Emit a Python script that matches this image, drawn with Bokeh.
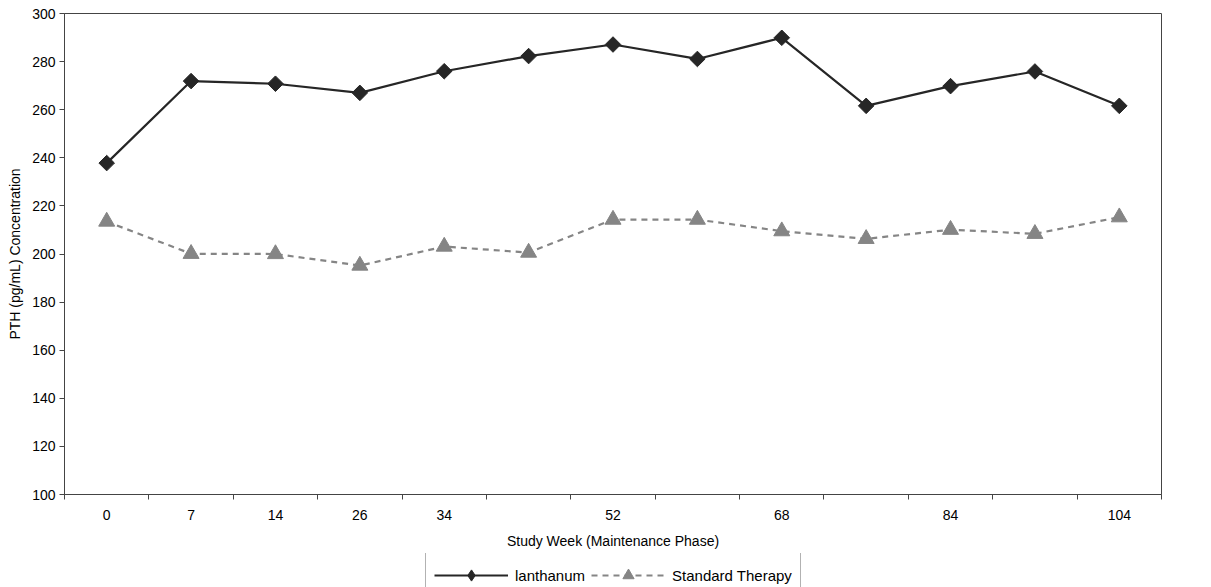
import math

from bokeh.plotting import figure
from bokeh.layouts import column
from bokeh.models import FixedTicker, Legend, LegendItem, Range1d
from bokeh.embed import file_html
from bokeh.resources import INLINE

# Study week labels along the category axis (some positions carry no label)
week_labels = ["0", "7", "14", "26", "34", "", "52", "", "68", "", "84", "", "104"]

# Mean PTH concentration (pg/mL) per visit
lanthanum = [237.8, 271.9, 270.8, 267.0, 276.0, 282.3, 287.1, 281.1, 289.9, 261.6, 269.8, 275.9, 261.6]
standard_therapy = [213.5, 200.1, 200.0, 195.2, 203.1, 200.6, 214.3, 214.3, 209.5, 206.3, 210.1, 208.4, 215.3]

y_ticks = [100, 120, 140, 160, 180, 200, 220, 240, 260, 280, 300]

FONT = "Liberation Sans"
AXIS_COLOR = "#444444"
DARK = "#262626"
GREY = "#858585"
DASH = "6 5"

n = len(week_labels)
x = list(range(n))

p = figure(
    width=1211, height=553,
    output_backend="svg", toolbar_location=None,
    x_range=(-0.5, n - 0.5), y_range=(y_ticks[0], y_ticks[-1]),
    min_border_left=64, min_border_right=50, min_border_top=13, min_border_bottom=59,
)
p.xgrid.visible = False
p.ygrid.visible = False
p.outline_line_color = AXIS_COLOR
p.outline_line_width = 1
p.background_fill_color = "white"
p.border_fill_color = "white"

# Lanthanum: solid dark line with diamond markers
p.line(x, lanthanum, line_color=DARK, line_width=2.2)
p.scatter(x, lanthanum, marker="square", size=11, angle=math.pi / 4,
          fill_color=DARK, line_color=DARK)

# Standard therapy: dashed grey line with triangle markers
p.line(x, standard_therapy, line_color=GREY, line_width=2.2, line_dash=DASH)
p.scatter(x, standard_therapy, marker="triangle", size=16,
          fill_color=GREY, line_color=GREY)

# X axis: labels at category centres, tick marks on category boundaries
xaxis = p.xaxis[0]
xaxis.ticker = FixedTicker(ticks=x, minor_ticks=[i - 0.5 for i in range(n + 1)])
xaxis.major_label_overrides = {i: lab for i, lab in enumerate(week_labels)}
xaxis.major_tick_line_color = None
xaxis.major_tick_out = 5
xaxis.major_tick_in = 0
xaxis.minor_tick_line_color = AXIS_COLOR
xaxis.minor_tick_out = 5
xaxis.minor_tick_in = 0
xaxis.major_label_standoff = 10
xaxis.axis_label = "Study Week (Maintenance Phase)"
xaxis.axis_label_standoff = 10

# Y axis
yaxis = p.yaxis[0]
yaxis.ticker = FixedTicker(ticks=y_ticks, minor_ticks=[])
yaxis.major_tick_out = 5
yaxis.major_tick_in = 0
yaxis.major_tick_line_color = AXIS_COLOR
yaxis.major_label_standoff = 4
yaxis.axis_label = "PTH (pg/mL) Concentration"
yaxis.axis_label_standoff = 6

for ax in (xaxis, yaxis):
    ax.axis_line_color = AXIS_COLOR
    ax.axis_line_width = 1
    ax.major_label_text_font = FONT
    ax.major_label_text_font_size = "14px"
    ax.major_label_text_color = "black"
    ax.axis_label_text_font = FONT
    ax.axis_label_text_font_size = "14px"
    ax.axis_label_text_font_style = "normal"
    ax.axis_label_text_color = "black"

# Legend strip under the chart. Its ranges keep the series glyphs out of
# view, so only their legend samples are drawn.
leg = figure(
    width=1211, height=34,
    output_backend="svg", toolbar_location=None,
    x_range=Range1d(-1000, -999), y_range=Range1d(-1000, -999),
    min_border=0, min_border_left=0, min_border_right=0,
    min_border_top=0, min_border_bottom=0,
)
leg.axis.visible = False
leg.xgrid.visible = False
leg.ygrid.visible = False
leg.outline_line_color = None
leg.border_fill_color = "white"
leg.background_fill_color = "white"

k1 = leg.line(x, lanthanum, line_color=DARK, line_width=2.2)
m1 = leg.scatter(x, lanthanum, marker="diamond", fill_color=DARK, line_color=DARK)
k2 = leg.line(x, standard_therapy, line_color=GREY, line_width=2.2, line_dash=DASH)
m2 = leg.scatter(x, standard_therapy, marker="triangle", fill_color=GREY, line_color=GREY)

legend = Legend(
    items=[
        LegendItem(label="lanthanum", renderers=[k1, m1]),
        LegendItem(label="Standard Therapy", renderers=[k2, m2]),
    ],
    orientation="horizontal",
    location=(361, -11),
    margin=0,
    glyph_width=74, glyph_height=28, label_height=28,
    padding=8, spacing=6, label_standoff=7,
    border_line_color="#666666", border_line_width=1,
    background_fill_color="white", background_fill_alpha=1,
    label_text_font=FONT, label_text_font_size="15px", label_text_color="black",
)
leg.add_layout(legend, "center")

open("out.html", "w").write(file_html(column(p, leg, spacing=0), INLINE))
